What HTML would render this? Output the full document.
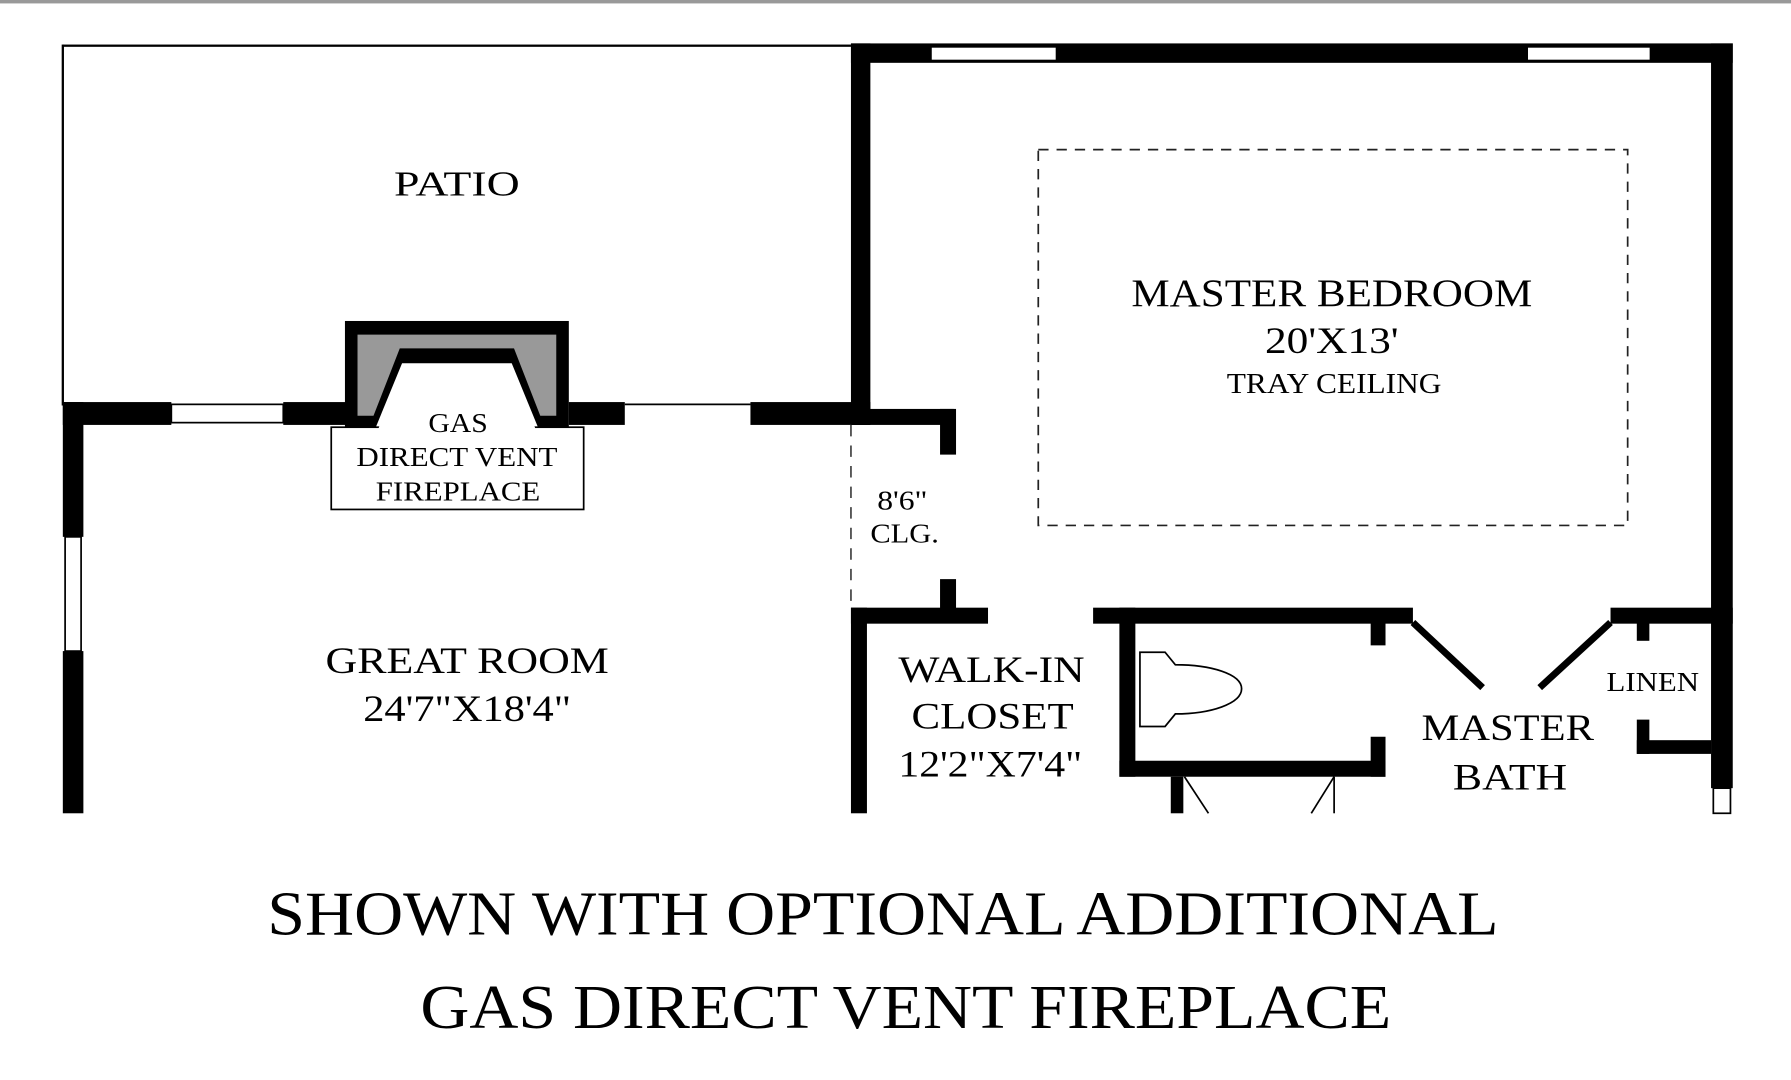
<!DOCTYPE html>
<html><head><meta charset="utf-8"><style>html,body{margin:0;padding:0;background:#fff;overflow:hidden}svg{display:block}text{font-family:"Liberation Serif",serif;fill:#000;text-anchor:middle}</style></head><body>
<svg width="1791" height="1080" viewBox="0 0 1568 945.5" preserveAspectRatio="none">
<rect x="0" y="0" width="1568" height="3" fill="#999"/>
<g fill="#000">
<rect x="55" y="39" width="690" height="2"/>
<rect x="54" y="39" width="2" height="316"/>
<rect x="745" y="38" width="772" height="17"/>
<rect x="745" y="38" width="17" height="334"/>
<rect x="1498" y="38" width="19" height="652"/>
<rect x="55" y="352" width="95" height="20"/>
<rect x="248" y="352" width="57" height="20"/>
<rect x="498" y="352" width="49" height="20"/>
<rect x="657" y="352" width="105" height="20"/>
<rect x="745" y="358" width="90" height="14"/>
<rect x="823" y="358" width="14" height="40"/>
<rect x="823" y="507" width="14" height="38"/>
<rect x="55" y="352" width="18" height="118"/>
<rect x="55" y="570" width="18" height="142"/>
<rect x="745" y="532" width="120" height="14"/>
<rect x="745" y="532" width="14" height="180"/>
<rect x="957" y="532" width="280" height="14"/>
<rect x="980" y="532" width="14" height="148"/>
<rect x="980" y="666" width="233" height="14"/>
<rect x="1200" y="545" width="13" height="20"/>
<rect x="1200" y="645" width="13" height="35"/>
<rect x="1410" y="532" width="107" height="14"/>
<rect x="1433" y="545" width="11" height="16"/>
<rect x="1433" y="630" width="11" height="30"/>
<rect x="1433" y="648" width="65" height="12"/>
<rect x="1025" y="680" width="11" height="32"/>
<rect x="302" y="281" width="196" height="93"/>
</g>
<g fill="#fff" stroke="#000" stroke-width="1.5">
<rect x="815" y="41" width="110" height="12"/>
<rect x="1337" y="41" width="108" height="12"/>
<rect x="150" y="354" width="98" height="16"/>
<rect x="57" y="470" width="14" height="100"/>
<rect x="1500" y="690" width="15" height="22"/>
</g>
<line x1="547" y1="354" x2="657" y2="354" stroke="#000" stroke-width="1.5"/>
<polygon points="313,293 487,293 487,364 473,364 450,305 350,305 327,364 313,364" fill="#999"/>
<polygon points="329,374 352,318 448,318 471,374" fill="#fff"/>
<rect x="290" y="374" width="221" height="72" fill="#fff" stroke="#000" stroke-width="1.5"/>
<polygon points="331,376 352,321 448,321 469,376" fill="#fff"/>
<line x1="745" y1="372" x2="745" y2="530" stroke="#444" stroke-width="1.5" stroke-dasharray="10,8"/>
<rect x="909" y="131" width="516" height="329" fill="none" stroke="#222" stroke-width="1.5" stroke-dasharray="9,7"/>
<g stroke="#000">
<line x1="1237" y1="545" x2="1298" y2="602" stroke-width="6"/>
<line x1="1348" y1="602" x2="1410" y2="545" stroke-width="6"/>
<line x1="1037" y1="680" x2="1058" y2="712" stroke-width="1.5"/>
<line x1="1168" y1="680" x2="1148" y2="712" stroke-width="1.5"/>
<line x1="1168" y1="680" x2="1168" y2="712" stroke-width="1.5"/>
</g>
<path d="M998,571 L1020,571 L1029,582 C1060,582 1087,590 1087,603 C1087,616 1060,625 1029,625 L1020,636 L998,636 Z" fill="#fff" stroke="#000" stroke-width="1.5"/>
<text x="400" y="171" font-size="31" textLength="110" lengthAdjust="spacingAndGlyphs">PATIO</text>
<text x="1166" y="268" font-size="34" textLength="351" lengthAdjust="spacingAndGlyphs">MASTER BEDROOM</text>
<text x="1166" y="309" font-size="32" textLength="117" lengthAdjust="spacingAndGlyphs">20'X13'</text>
<text x="1168" y="344" font-size="25" textLength="188" lengthAdjust="spacingAndGlyphs">TRAY CEILING</text>
<text x="401" y="378" font-size="24" textLength="52" lengthAdjust="spacingAndGlyphs">GAS</text>
<text x="400" y="408" font-size="24" textLength="176" lengthAdjust="spacingAndGlyphs">DIRECT VENT</text>
<text x="401" y="438" font-size="24" textLength="144" lengthAdjust="spacingAndGlyphs">FIREPLACE</text>
<text x="790" y="446" font-size="24" textLength="44" lengthAdjust="spacingAndGlyphs">8'6"</text>
<text x="792" y="475" font-size="24" textLength="60" lengthAdjust="spacingAndGlyphs">CLG.</text>
<text x="409" y="589" font-size="32" textLength="248" lengthAdjust="spacingAndGlyphs">GREAT ROOM</text>
<text x="409" y="631" font-size="32" textLength="182" lengthAdjust="spacingAndGlyphs">24'7"X18'4"</text>
<text x="868" y="597" font-size="32" textLength="163" lengthAdjust="spacingAndGlyphs">WALK-IN</text>
<text x="869" y="638" font-size="32" textLength="142" lengthAdjust="spacingAndGlyphs">CLOSET</text>
<text x="867" y="680" font-size="32" textLength="161" lengthAdjust="spacingAndGlyphs">12'2"X7'4"</text>
<text x="1447" y="605" font-size="24" textLength="81" lengthAdjust="spacingAndGlyphs">LINEN</text>
<text x="1320" y="648" font-size="32" textLength="151" lengthAdjust="spacingAndGlyphs">MASTER</text>
<text x="1322" y="691" font-size="32" textLength="100" lengthAdjust="spacingAndGlyphs">BATH</text>
<text x="773" y="818" font-size="55" textLength="1078" lengthAdjust="spacingAndGlyphs">SHOWN WITH OPTIONAL ADDITIONAL</text>
<text x="793" y="900" font-size="55" textLength="850" lengthAdjust="spacingAndGlyphs">GAS DIRECT VENT FIREPLACE</text>
</svg>
</body></html>
